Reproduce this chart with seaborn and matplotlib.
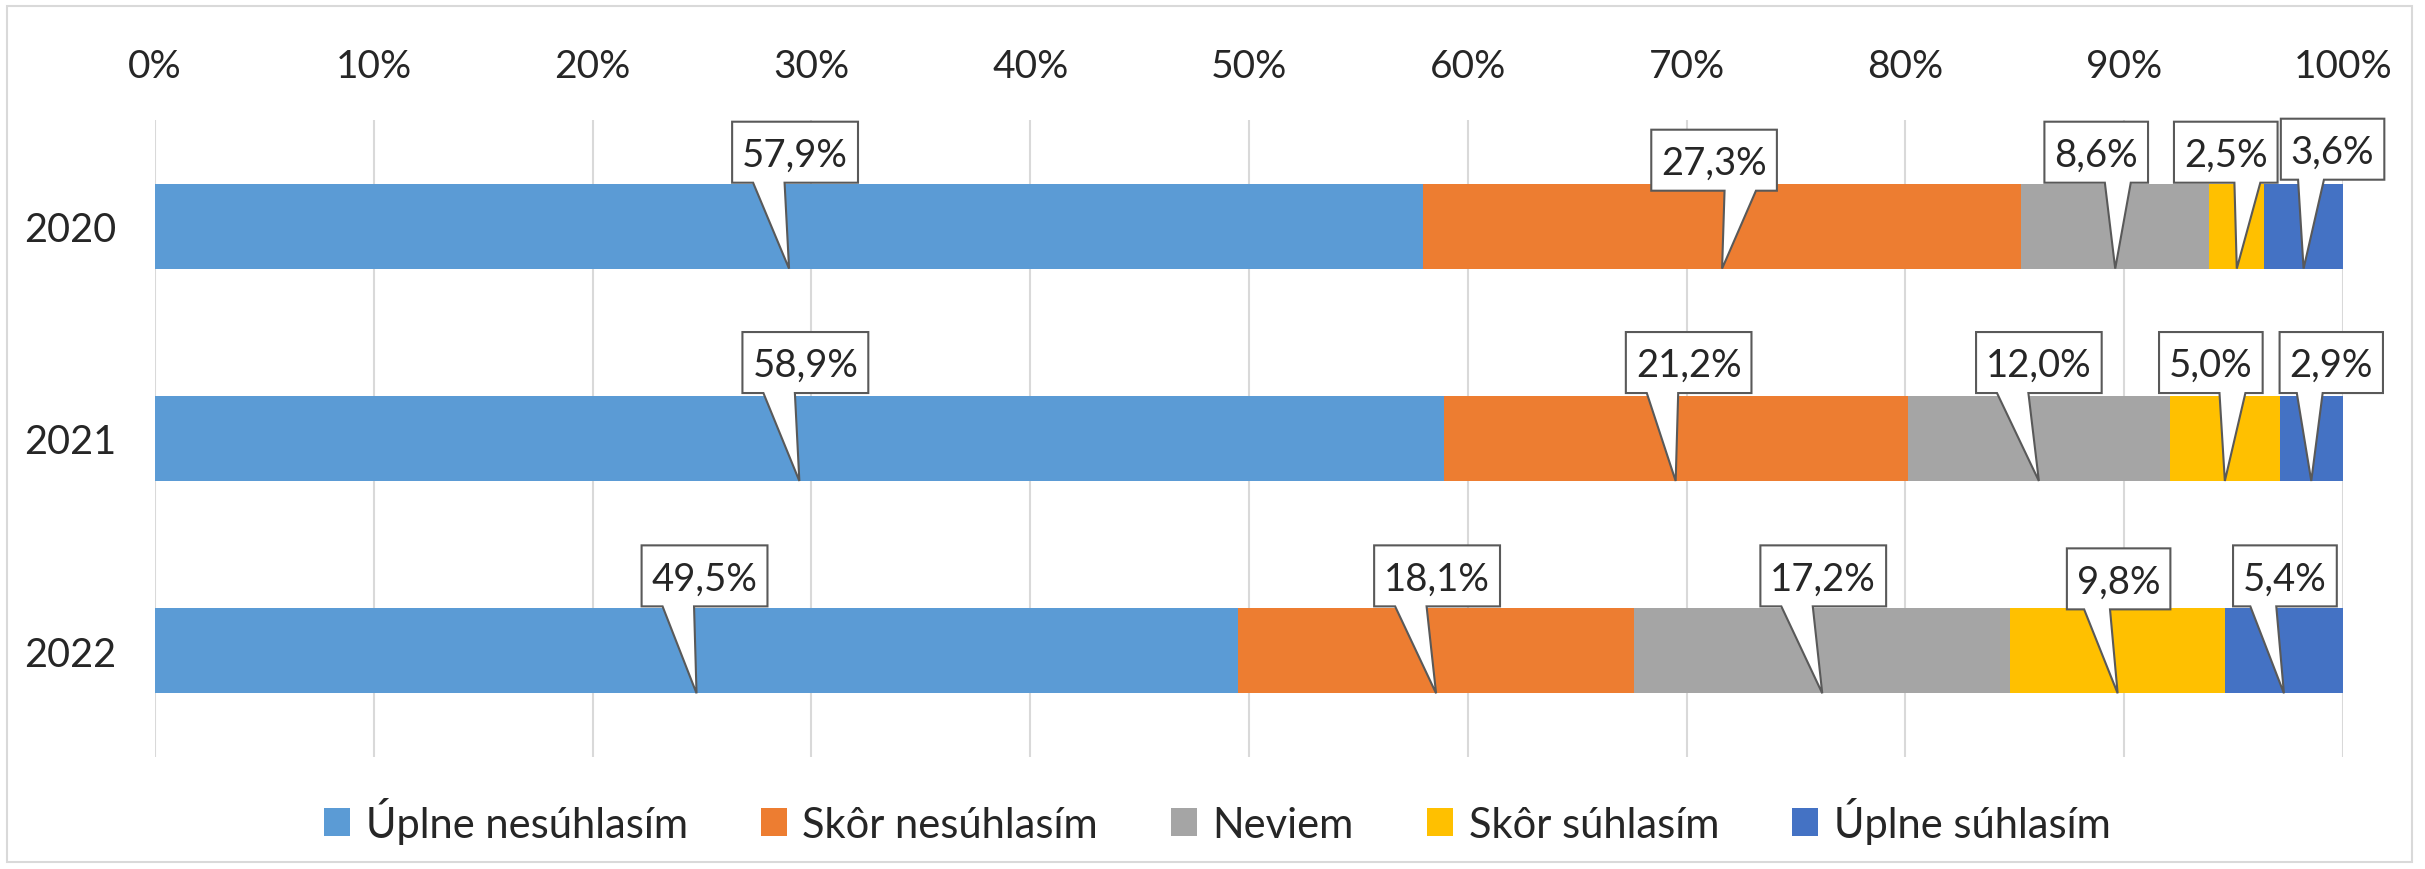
import pandas as pd
import matplotlib.pyplot as plt
import seaborn as sns
from matplotlib.patches import Patch, Polygon, Rectangle

years = ['2020', '2021', '2022']
categories = ['Úplne nesúhlasím', 'Skôr nesúhlasím', 'Neviem',
              'Skôr súhlasím', 'Úplne súhlasím']
uplne_nesuhlasim = [57.9, 58.9, 49.5]
skor_nesuhlasim = [27.3, 21.2, 18.1]
neviem = [8.6, 12.0, 17.2]
skor_suhlasim = [2.5, 5.0, 9.8]
uplne_suhlasim = [3.6, 2.9, 5.4]
xticks = [0, 10, 20, 30, 40, 50, 60, 70, 80, 90, 100]

colors = ['#5B9BD5', '#ED7D31', '#A5A5A5', '#FFC000', '#4472C4']

# manual nudges of the callout boxes (pixels), like in the original sheet
label_dx = [[6, -8, -19, -11, 29], [6, 13, 0, -14, 20], [8, 1, 1, 1, 1]]
label_dy = [[1, -7, 1, 1, 4], [3, 3, 3, 3, 3], [2, 2, 2, -1, 2]]

sns.set_style('white')
plt.rcParams['font.family'] = ['Lato', 'DejaVu Sans']
FS = 27.5
LEG_FS = 30

df = pd.DataFrame({
    'year': years,
    categories[0]: uplne_nesuhlasim,
    categories[1]: skor_nesuhlasim,
    categories[2]: neviem,
    categories[3]: skor_suhlasim,
    categories[4]: uplne_suhlasim,
})
shares = df[categories].div(df[categories].sum(axis=1), axis=0) * 100
cum = shares.cumsum(axis=1)

W, H = 2425, 870
fig = plt.figure(figsize=(W / 100, H / 100), dpi=100)
ax = fig.add_axes([155 / W, 112 / H, 2188 / W, 637 / H])

# stacked bars: draw cumulative totals from the back to the front
for cat, color in reversed(list(zip(categories, colors))):
    sns.barplot(x=cum[cat], y=df['year'], color=color, orient='h',
                width=0.4, saturation=1, errorbar=None, linewidth=0,
                ax=ax, zorder=3)

ax.set_xlim(0, 100)
ax.set_ylim(2.5, -0.5)
ax.xaxis.tick_top()
ax.set_xticks(xticks)
ax.set_xticklabels([f'{t}%' for t in xticks])
ax.tick_params(axis='x', length=0, pad=26, labelsize=28)
ax.tick_params(axis='y', length=0, pad=28, labelsize=28.5)
ax.set_xlabel('')
ax.set_ylabel('')
ax.grid(axis='x', color='#D9D9D9', lw=1.5, zorder=0)
ax.set_axisbelow(True)
for s in ax.spines.values():
    s.set_visible(False)

# callout labels
fig.canvas.draw()
renderer = fig.canvas.get_renderer()
to_disp = ax.transData.transform
to_data = ax.transData.inverted().transform
box_h = 61
for i in range(len(years)):
    for j, cat in enumerate(categories):
        value = df.loc[i, cat]
        center = cum.loc[i, cat] - shares.loc[i, cat] / 2
        tip_x, tip_y = to_disp((center, i + 0.2))
        _, bar_top = to_disp((center, i - 0.2))
        label = f'{value:.1f}%'.replace('.', ',')
        txt = ax.text(0, 0, label, fontsize=FS, ha='center', va='baseline',
                      zorder=7, clip_on=False)
        tw = txt.get_window_extent(renderer).width
        bw = tw + 20
        cx = tip_x + label_dx[i][j]
        b = bar_top + label_dy[i][j]
        t = b + box_h
        left, right = cx - bw / 2, cx + bw / 2
        if tip_x <= cx:
            b0, b1 = left + bw * 2 / 12, left + bw * 5 / 12
        else:
            b0, b1 = left + bw * 7 / 12, left + bw * 10 / 12
        pts = [(left, b), (left, t), (right, t), (right, b),
               (b1, b), (tip_x, tip_y), (b0, b)]
        poly = Polygon(to_data(pts), closed=True, facecolor='white',
                       edgecolor='#595959', lw=1.5, joinstyle='miter',
                       zorder=6, clip_on=False)
        ax.add_patch(poly)
        txt.set_position(to_data([(cx, (b + t) / 2 - 13.5)])[0])

handles = [Patch(facecolor=c, edgecolor='none') for c in colors]
fig.legend(handles, categories, loc='center', ncol=5,
           bbox_to_anchor=(0.502, 0.056), frameon=False, fontsize=LEG_FS,
           handlelength=0.62, handleheight=0.65, handletextpad=0.38,
           columnspacing=1.75)

fig.add_artist(Rectangle((7 / W, 7 / H), (2412 - 7) / W, (863 - 7) / H,
                         transform=fig.transFigure, fill=False,
                         edgecolor='#D9D9D9', lw=1.5))

fig.savefig('out.png', dpi=100)
